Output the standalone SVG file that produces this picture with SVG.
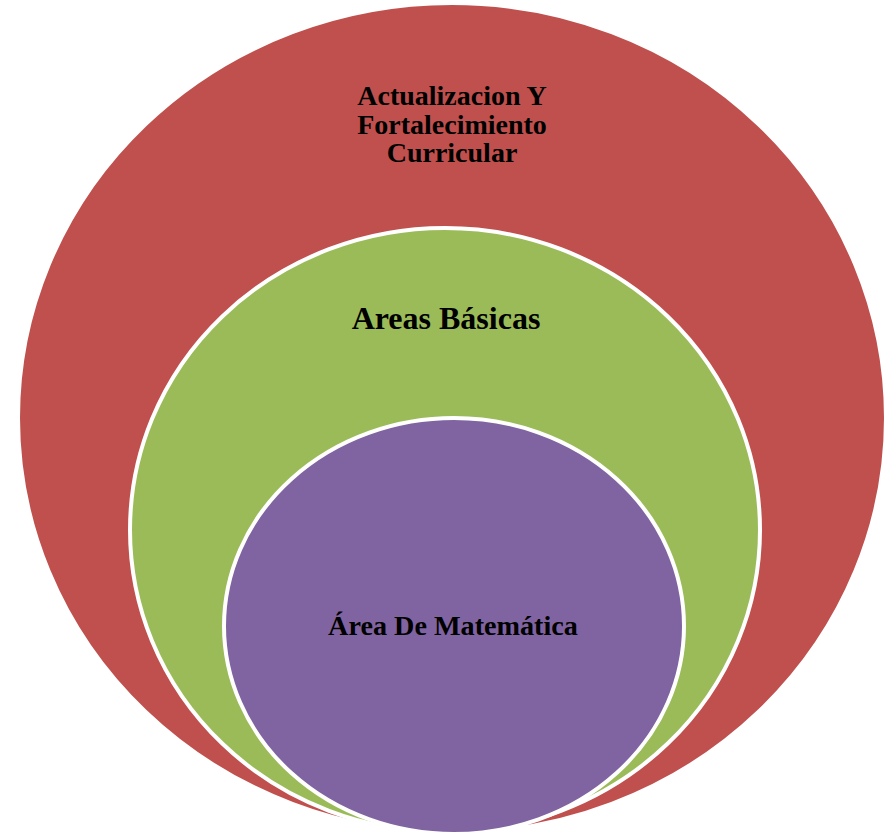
<svg xmlns="http://www.w3.org/2000/svg" width="888" height="835" viewBox="0 0 888 835">
<style>
.c{stroke:#fff;stroke-width:4}
.t{font-family:"Liberation Serif","Times New Roman",serif;font-weight:bold;fill:#000;text-anchor:middle}
</style>
<rect width="888" height="835" fill="#fff"/>
<g id="outer">
<ellipse class="c" cx="452" cy="418" rx="434" ry="415" fill="#C0504D"/>
<text class="t" x="452" y="105" font-size="28">Actualizacion Y</text>
<text class="t" x="452" y="134" font-size="28">Fortalecimiento</text>
<text class="t" x="452" y="162" font-size="28">Curricular</text>
</g>
<g id="middle">
<ellipse class="c" cx="445" cy="530" rx="315" ry="302" fill="#9BBB59"/>
<text class="t" x="446" y="329" font-size="32">Areas Básicas</text>
</g>
<g id="inner">
<ellipse class="c" cx="454" cy="626" rx="230" ry="208" fill="#8064A2"/>
<text class="t" x="453" y="635" font-size="28.2">Área De Matemática</text>
</g>
<g id="connectors"></g>
</svg>
